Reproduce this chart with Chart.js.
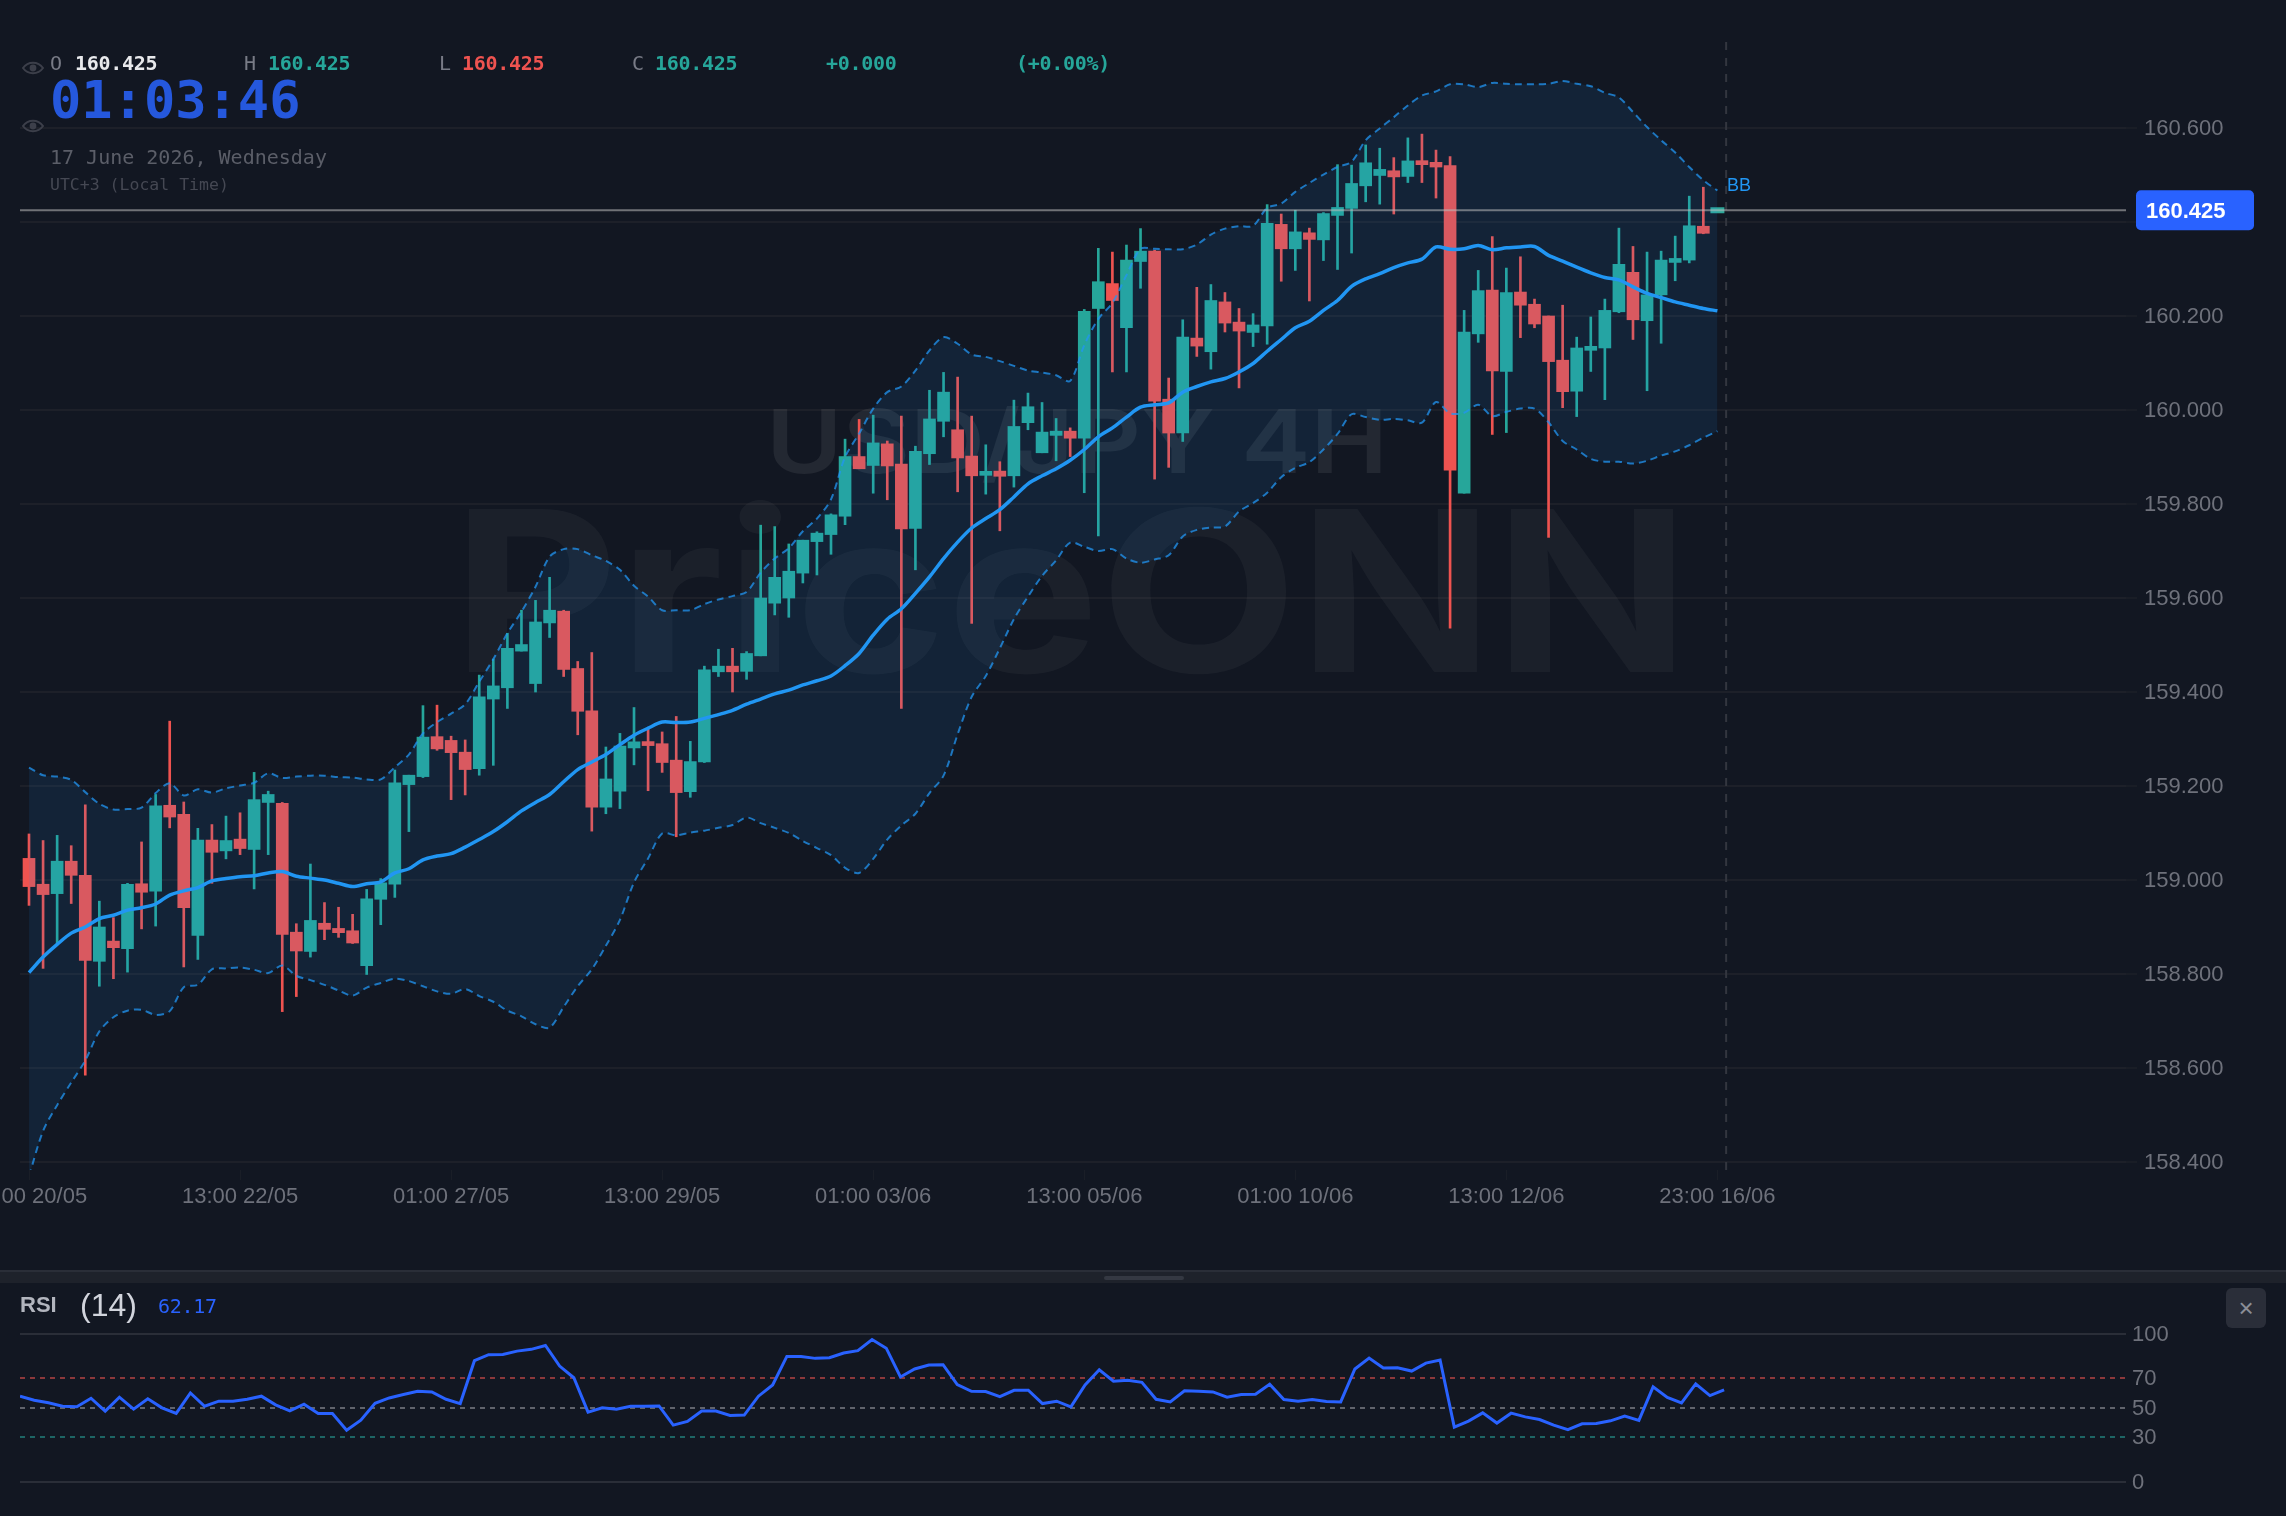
<!DOCTYPE html>
<html>
<head>
<meta charset="utf-8">
<title>USD/JPY 4H</title>
<script src="https://cdn.jsdelivr.net/npm/chart.js@4/dist/chart.umd.js"></script>
<style>
  html, body { margin: 0; padding: 0; background: #121722; overflow: hidden; }
  #stage { position: relative; width: 2286px; height: 1516px; background: #121722; }
  canvas { position: absolute; left: 0; }
  #priceChart { top: 0; }
  #rsiChart { top: 1284px; }
  .abs { position: absolute; white-space: nowrap; line-height: 1; }
  .mono { font-family: "DejaVu Sans Mono", monospace; }
  .sans { font-family: "Liberation Sans", Arial, sans-serif; }
</style>
</head>
<body>
<div id="stage">
  <canvas id="priceChart" width="2286" height="1270"></canvas>
  <canvas id="rsiChart" width="2286" height="232"></canvas>

  <!-- OHLC legend -->
  <span class="abs mono" style="left:50px;top:53px;font-size:20px;color:#787b86">O</span>
  <span class="abs mono" style="left:75px;top:53px;font-size:20px;color:#e8e9ec;letter-spacing:-.3px;font-weight:700">160.425</span>
  <span class="abs mono" style="left:244px;top:53px;font-size:20px;color:#787b86">H</span>
  <span class="abs mono" style="left:268px;top:53px;font-size:20px;color:#26a69a;letter-spacing:-.3px;font-weight:700">160.425</span>
  <span class="abs mono" style="left:439px;top:53px;font-size:20px;color:#787b86">L</span>
  <span class="abs mono" style="left:462px;top:53px;font-size:20px;color:#ef5350;letter-spacing:-.3px;font-weight:700">160.425</span>
  <span class="abs mono" style="left:632px;top:53px;font-size:20px;color:#787b86">C</span>
  <span class="abs mono" style="left:655px;top:53px;font-size:20px;color:#26a69a;letter-spacing:-.3px;font-weight:700">160.425</span>
  <span class="abs mono" style="left:826px;top:53px;font-size:20px;color:#26a69a;letter-spacing:-.3px;font-weight:700">+0.000</span>
  <span class="abs mono" style="left:1016px;top:53px;font-size:20px;color:#26a69a;letter-spacing:-.3px;font-weight:700">(+0.00%)</span>

  <!-- clock block -->
  <span class="abs mono" style="left:50px;top:74px;font-size:52px;font-weight:700;color:#2558dd">01:03:46</span>
  <span class="abs mono" style="left:50px;top:147px;font-size:20px;color:#5b5e68">17 June 2026, Wednesday</span>
  <span class="abs mono" style="left:50px;top:177px;font-size:16.5px;color:#454853">UTC+3 (Local Time)</span>

  <svg class="abs" style="left:22px;top:60px" width="22" height="16" viewBox="0 0 22 16">
    <path d="M1 8 C6 1 16 1 21 8 C16 15 6 15 1 8 Z" fill="none" stroke="#3c3f4a" stroke-width="2"/>
    <circle cx="11" cy="8" r="3.4" fill="#3c3f4a"/>
  </svg>
  <svg class="abs" style="left:22px;top:118px" width="22" height="16" viewBox="0 0 22 16">
    <path d="M1 8 C6 1 16 1 21 8 C16 15 6 15 1 8 Z" fill="none" stroke="#3c3f4a" stroke-width="2"/>
    <circle cx="11" cy="8" r="3.4" fill="#3c3f4a"/>
  </svg>

  <!-- pane divider -->
  <div class="abs" style="left:0;top:1270px;width:2286px;height:2px;background:#2a2e38"></div>
  <div class="abs" style="left:0;top:1272px;width:2286px;height:11px;background:#1e222b"></div>
  <div class="abs" style="left:1104px;top:1276px;width:80px;height:4px;border-radius:2px;background:#343842"></div>

  <!-- RSI legend -->
  <span class="abs sans" style="left:20px;top:1294px;font-size:22px;font-weight:700;color:#b2b5be">RSI</span>
  <span class="abs sans" style="left:80px;top:1289px;font-size:32px;color:#d1d4dc">(14)</span>
  <span class="abs mono" style="left:158px;top:1296px;font-size:20px;color:#2962ff;letter-spacing:-.3px">62.17</span>

  <!-- close button -->
  <div class="abs sans" style="left:2226px;top:1288px;width:40px;height:40px;border-radius:6px;background:#2a2e39;color:#8b8e97;font-size:26px;line-height:40px;text-align:center">×</div>
</div>

<script>
// OHLC candles, 4h bars
const opens = [
  159.046, 158.991, 158.971, 159.040, 159.010, 158.827, 158.870, 158.854, 158.992, 158.976,
  159.159, 159.140, 158.882, 159.085, 159.062, 159.087, 159.065, 159.165, 159.163, 158.889,
  158.848, 158.908, 158.897, 158.892, 158.818, 158.959, 158.991, 159.203, 159.220, 159.305,
  159.297, 159.272, 159.237, 159.385, 159.409, 159.487, 159.418, 159.547, 159.572, 159.450,
  159.360, 159.155, 159.189, 159.281, 159.294, 159.290, 159.255, 159.188, 159.251, 159.443,
  159.455, 159.444, 159.477, 159.589, 159.600, 159.653, 159.720, 159.735, 159.774, 159.901,
  159.882, 159.928, 159.885, 159.748, 159.907, 159.976, 159.958, 159.902, 159.861, 159.870,
  159.860, 159.973, 159.909, 159.946, 159.955, 159.940, 160.216, 160.269, 160.175, 160.316,
  160.338, 160.023, 159.951, 160.153, 160.124, 160.230, 160.187, 160.165, 160.179, 160.395,
  160.343, 160.377, 160.362, 160.414, 160.429, 160.477, 160.499, 160.509, 160.497, 160.530,
  160.527, 160.520, 159.823, 160.162, 160.255, 160.082, 160.251, 160.225, 160.200, 160.106,
  160.040, 160.127, 160.132, 160.209, 160.293, 160.190, 160.245, 160.314, 160.319, 160.391,
  160.425
];
const highs = [
  159.098, 159.084, 159.095, 159.073, 159.160, 158.955, 158.920, 158.993, 159.081, 159.182,
  159.338, 159.166, 159.110, 159.118, 159.136, 159.143, 159.229, 159.189, 159.165, 158.907,
  159.034, 158.952, 158.942, 158.927, 158.980, 159.003, 159.234, 159.223, 159.371, 159.372,
  159.306, 159.298, 159.436, 159.470, 159.525, 159.574, 159.595, 159.644, 159.574, 159.465,
  159.484, 159.283, 159.312, 159.367, 159.321, 159.315, 159.348, 159.295, 159.455, 159.491,
  159.493, 159.486, 159.755, 159.752, 159.715, 159.723, 159.741, 159.779, 159.938, 159.980,
  159.989, 159.934, 159.987, 159.923, 160.042, 160.080, 160.070, 159.987, 159.926, 159.890,
  160.021, 160.036, 160.016, 159.982, 159.962, 160.214, 160.344, 160.336, 160.351, 160.386,
  160.340, 160.068, 160.192, 160.261, 160.267, 160.250, 160.216, 160.205, 160.437, 160.417,
  160.425, 160.387, 160.420, 160.522, 160.521, 160.564, 160.557, 160.537, 160.579, 160.587,
  160.553, 160.539, 160.212, 160.297, 160.369, 160.302, 160.326, 160.236, 160.200, 160.223,
  160.155, 160.198, 160.236, 160.387, 160.348, 160.336, 160.338, 160.370, 160.455, 160.474,
  160.425
];
const lows = [
  158.946, 158.812, 158.865, 158.950, 158.585, 158.774, 158.790, 158.804, 158.896, 158.902,
  159.111, 158.815, 158.831, 158.993, 159.045, 159.054, 158.981, 159.054, 158.720, 158.752,
  158.836, 158.873, 158.878, 158.865, 158.799, 158.905, 158.963, 159.103, 159.218, 159.276,
  159.171, 159.181, 159.223, 159.244, 159.365, 159.487, 159.400, 159.516, 159.433, 159.309,
  159.104, 159.141, 159.152, 159.245, 159.190, 159.229, 159.092, 159.176, 159.250, 159.433,
  159.400, 159.427, 159.477, 159.564, 159.559, 159.632, 159.649, 159.693, 159.756, 159.875,
  159.823, 159.809, 159.365, 159.660, 159.884, 159.943, 159.826, 159.546, 159.821, 159.743,
  159.836, 159.958, 159.909, 159.892, 159.901, 159.824, 159.732, 160.081, 160.081, 160.259,
  159.853, 159.878, 159.933, 160.114, 160.087, 160.166, 160.047, 160.135, 160.140, 160.274,
  160.297, 160.232, 160.318, 160.299, 160.334, 160.443, 160.438, 160.417, 160.484, 160.484,
  160.451, 159.536, 159.823, 160.144, 159.948, 159.952, 160.154, 160.175, 159.729, 160.005,
  159.986, 160.082, 160.022, 160.207, 160.150, 160.041, 160.142, 160.275, 160.313, 160.375,
  160.425
];
const closes = [
  158.986, 158.969, 159.040, 159.010, 158.829, 158.900, 158.856, 158.991, 158.974, 159.158,
  159.134, 158.941, 159.085, 159.059, 159.084, 159.067, 159.171, 159.182, 158.884, 158.849,
  158.914, 158.895, 158.888, 158.866, 158.960, 158.994, 159.207, 159.223, 159.304, 159.279,
  159.271, 159.235, 159.390, 159.413, 159.493, 159.501, 159.549, 159.574, 159.448, 159.359,
  159.155, 159.215, 159.285, 159.294, 159.286, 159.250, 159.186, 159.252, 159.447, 159.455,
  159.443, 159.482, 159.600, 159.644, 159.657, 159.723, 159.738, 159.777, 159.901, 159.875,
  159.930, 159.881, 159.747, 159.912, 159.981, 160.038, 159.898, 159.860, 159.869, 159.859,
  159.965, 160.007, 159.953, 159.955, 159.940, 160.210, 160.273, 160.233, 160.319, 160.338,
  160.019, 159.951, 160.155, 160.136, 160.233, 160.185, 160.168, 160.181, 160.397, 160.343,
  160.379, 160.363, 160.418, 160.431, 160.482, 160.526, 160.512, 160.496, 160.530, 160.522,
  160.517, 159.872, 160.166, 160.254, 160.083, 160.250, 160.223, 160.183, 160.103, 160.039,
  160.132, 160.135, 160.212, 160.310, 160.192, 160.245, 160.319, 160.322, 160.392, 160.376,
  160.425
];

// Bollinger bands
const bbUpper = [
  159.239, 159.223, 159.220, 159.213, 159.187, 159.162, 159.150, 159.151, 159.154, 159.185,
  159.206, 159.180, 159.193, 159.186, 159.195, 159.201, 159.207, 159.227, 159.217, 159.220,
  159.222, 159.222, 159.219, 159.218, 159.214, 159.214, 159.240, 159.267, 159.312, 159.336,
  159.354, 159.374, 159.422, 159.470, 159.525, 159.571, 159.624, 159.688, 159.704, 159.704,
  159.691, 159.679, 159.660, 159.626, 159.603, 159.574, 159.574, 159.574, 159.587, 159.597,
  159.604, 159.613, 159.654, 159.684, 159.706, 159.742, 159.769, 159.810, 159.900, 159.950,
  160.003, 160.038, 160.050, 160.084, 160.127, 160.155, 160.141, 160.118, 160.113, 160.104,
  160.094, 160.084, 160.080, 160.074, 160.062, 160.138, 160.194, 160.228, 160.287, 160.343,
  160.343, 160.342, 160.342, 160.352, 160.373, 160.386, 160.391, 160.392, 160.430, 160.439,
  160.464, 160.483, 160.501, 160.517, 160.528, 160.574, 160.599, 160.623, 160.648, 160.669,
  160.678, 160.693, 160.693, 160.687, 160.696, 160.694, 160.693, 160.693, 160.694, 160.700,
  160.694, 160.689, 160.675, 160.665, 160.634, 160.602, 160.574, 160.548, 160.517, 160.489,
  160.467
];
const bbMiddle = [
  158.803, 158.836, 158.863, 158.887, 158.900, 158.918, 158.925, 158.936, 158.941, 158.949,
  158.968, 158.977, 158.984, 158.998, 159.003, 159.007, 159.009, 159.015, 159.018, 159.008,
  159.004, 159.000, 158.993, 158.986, 158.992, 158.996, 159.015, 159.024, 159.043, 159.051,
  159.056, 159.070, 159.086, 159.103, 159.124, 159.147, 159.165, 159.182, 159.209, 159.235,
  159.251, 159.267, 159.288, 159.308, 159.323, 159.336, 159.335, 159.336, 159.344, 159.352,
  159.361, 159.374, 159.385, 159.396, 159.404, 159.415, 159.424, 159.434, 159.456, 159.482,
  159.521, 159.555, 159.577, 159.610, 159.645, 159.684, 159.719, 159.749, 159.769, 159.788,
  159.815, 159.843, 159.860, 159.875, 159.893, 159.916, 159.943, 159.962, 159.985, 160.006,
  160.011, 160.015, 160.038, 160.050, 160.060, 160.067, 160.081, 160.099, 160.125, 160.150,
  160.175, 160.189, 160.212, 160.233, 160.263, 160.279, 160.290, 160.303, 160.313, 160.321,
  160.347, 160.342, 160.343, 160.350, 160.341, 160.345, 160.347, 160.348, 160.329, 160.317,
  160.304, 160.292, 160.282, 160.277, 160.262, 160.248, 160.239, 160.230, 160.223, 160.216,
  160.211
];
const bbLower = [
  158.370, 158.466, 158.521, 158.569, 158.616, 158.678, 158.708, 158.722, 158.724, 158.713,
  158.721, 158.772, 158.777, 158.810, 158.812, 158.814, 158.809, 158.802, 158.818, 158.796,
  158.787, 158.777, 158.765, 158.754, 158.771, 158.781, 158.790, 158.785, 158.774, 158.763,
  158.758, 158.768, 158.753, 158.741, 158.722, 158.710, 158.693, 158.686, 158.730, 158.774,
  158.810, 158.860, 158.915, 158.995, 159.046, 159.099, 159.095, 159.101, 159.105, 159.111,
  159.117, 159.133, 159.121, 159.111, 159.100, 159.083, 159.068, 159.053, 159.026, 159.015,
  159.045, 159.086, 159.116, 159.141, 159.185, 159.222, 159.310, 159.390, 159.434, 159.493,
  159.555, 159.603, 159.647, 159.680, 159.718, 159.709, 159.700, 159.704, 159.684, 159.675,
  159.682, 159.691, 159.731, 159.745, 159.750, 159.752, 159.784, 159.802, 159.824, 159.857,
  159.877, 159.889, 159.916, 159.949, 159.991, 159.985, 159.979, 159.981, 159.978, 159.973,
  160.017, 159.993, 159.994, 160.011, 159.987, 159.996, 160.003, 160.003, 159.974, 159.934,
  159.916, 159.896, 159.890, 159.890, 159.886, 159.892, 159.903, 159.912, 159.925, 159.941,
  159.955
];

// RSI(14)
const rsiValues = [
  57.9, 55.2, 53.4, 51.1, 50.7, 56.5, 47.8, 57.2, 49.1, 56.1,
  50.0, 46.2, 60.1, 51.1, 54.5, 54.5, 55.8, 57.9, 52.0, 48.0,
  52.5, 46.2, 46.2, 34.9, 41.7, 53.1, 56.7, 59.0, 61.2, 60.8,
  55.8, 52.9, 81.9, 86.0, 86.2, 88.4, 89.6, 92.2, 78.3, 70.4,
  47.1, 50.0, 49.1, 51.1, 51.1, 51.3, 38.3, 40.8, 47.8, 47.8,
  44.8, 45.1, 57.9, 65.5, 84.8, 84.8, 83.5, 83.9, 87.1, 88.7,
  96.3, 90.4, 70.9, 76.3, 79.0, 79.2, 65.7, 61.2, 61.0, 57.6,
  61.9, 61.9, 52.9, 54.5, 50.7, 65.5, 75.8, 68.0, 68.7, 67.3,
  55.8, 54.0, 61.5, 61.2, 60.8, 57.2, 59.0, 59.2, 66.0, 55.6,
  54.5, 55.6, 54.3, 54.0, 76.3, 83.7, 77.0, 77.2, 74.9, 80.3,
  82.4, 37.0, 41.0, 46.6, 39.7, 46.4, 43.9, 42.1, 38.3, 35.2,
  39.2, 39.4, 41.2, 44.4, 41.5, 64.2, 57.0, 53.4, 66.2, 58.3,
  62.17
];

const priceTicks = [158.4, 158.6, 158.8, 159.0, 159.2, 159.4, 159.6, 159.8, 160.0, 160.2, 160.4, 160.6];
const timeTickIndices = [0, 15, 30, 45, 60, 75, 90, 105, 120];
const timeTickLabels = ['01:00 20/05', '13:00 22/05', '01:00 27/05', '13:00 29/05', '01:00 03/06', '13:00 05/06', '01:00 10/06', '13:00 12/06', '23:00 16/06'];
const rsiTicks = [0, 30, 50, 70, 100];
const lastPrice = 160.425;
const cursorIndex = 120.62;

const UP = '#26a69a';
const DOWN = '#ef5350';
const GRID = '#1d2029';
const LABEL = '#6e717b';
const SANS = '"Liberation Sans", Arial, sans-serif';

const lastBar = closes.length - 1;
const candleColors = opens.map((o, i) => (closes[i] >= o ? UP : DOWN));

// bar datasets take {x, y: [from, to]} for floating bars
const wickData = highs.slice(0, lastBar).map((h, i) => ({ x: i, y: [lows[i], h] }));
const bodyData = opens.slice(0, lastBar).map((o, i) => ({ x: i, y: [o, closes[i]] }));
const lastBody = [{ x: lastBar, y: [opens[lastBar], closes[lastBar]] }];
const lineData = (arr) => arr.map((v, i) => ({ x: i, y: v }));

// draws text stretched sideways to a target width
function fitText(c, text, x, y, width) {
  const sx = width / c.measureText(text).width;
  c.save();
  c.translate(x, y);
  c.scale(sx, 1);
  c.fillText(text, 0, 0);
  c.restore();
}

// Big watermark under the candles
const watermark = {
  id: 'watermark',
  beforeDatasetsDraw(chart) {
    const c = chart.ctx;
    c.save();
    c.textBaseline = 'alphabetic';
    c.textAlign = 'left';
    c.fillStyle = 'rgba(255,255,255,0.04)';
    c.font = '700 224px Inter';
    fitText(c, 'PriceONN', 452, 672, 1238);
    c.fillStyle = 'rgba(255,255,255,0.075)';
    c.font = '600 88px Inter';
    fitText(c, 'USD/JPY 4H', 766, 473, 622);
    c.restore();
  }
};

// Last price line with its badge, the cursor line and the BB tag
const priceOverlay = {
  id: 'priceOverlay',
  afterDatasetsDraw(chart) {
    const c = chart.ctx;
    const y = chart.scales.y.getPixelForValue(lastPrice);
    const x = chart.scales.x.getPixelForValue(cursorIndex);
    const area = chart.chartArea;
    c.save();
    c.strokeStyle = '#33363f';
    c.lineWidth = 2;
    c.setLineDash([8, 8]);
    c.beginPath();
    c.moveTo(x, area.top);
    c.lineTo(x, area.bottom);
    c.stroke();

    c.setLineDash([]);
    c.strokeStyle = 'rgba(190,190,190,0.55)';
    c.beginPath();
    c.moveTo(area.left, y);
    c.lineTo(area.right, y);
    c.stroke();

    c.fillStyle = '#2962ff';
    c.beginPath();
    c.roundRect(2136, y - 20, 118, 40, 5);
    c.fill();
    c.fillStyle = '#ffffff';
    c.font = 'bold 22px ' + SANS;
    c.textBaseline = 'middle';
    c.textAlign = 'left';
    c.fillText(lastPrice.toFixed(3), 2146, y + 2);

    c.fillStyle = '#2196f3';
    c.font = '18px ' + SANS;
    c.fillText('BB', 1727, chart.scales.y.getPixelForValue(bbUpper[lastBar]) - 4);
    c.restore();
  }
};

new Chart(document.getElementById('priceChart'), {
  type: 'bar',
  data: {
    datasets: [
      { label: 'Wick', data: wickData, backgroundColor: candleColors, barThickness: 2, grouped: false, order: 6 },
      { label: 'Body', data: bodyData, backgroundColor: candleColors, barThickness: 12, grouped: false, minBarLength: 4, order: 5 },
      // open equals close on the forming bar, inflate keeps it visible around the price
      { label: 'Last', data: lastBody, backgroundColor: '#2fa79a', barThickness: 8, grouped: false, inflateAmount: 3, order: 4 },
      {
        type: 'line', label: 'BB upper', data: lineData(bbUpper), order: 3,
        borderColor: 'rgba(33,150,243,0.75)', borderWidth: 2, borderDash: [7, 5],
        pointRadius: 0, tension: 0.3,
        fill: { target: 4 }, backgroundColor: 'rgba(33,150,243,0.1)'
      },
      {
        type: 'line', label: 'BB lower', data: lineData(bbLower), order: 2,
        borderColor: 'rgba(33,150,243,0.75)', borderWidth: 2, borderDash: [7, 5],
        pointRadius: 0, tension: 0.3, fill: false
      },
      {
        type: 'line', label: 'BB basis', data: lineData(bbMiddle), order: 1,
        borderColor: '#2196f3', borderWidth: 3.5, pointRadius: 0, tension: 0.3, fill: false
      }
    ]
  },
  options: {
    responsive: false,
    animation: false,
    events: [],
    layout: { padding: { top: 42, left: 20, right: 0, bottom: 0 } },
    plugins: { legend: { display: false }, tooltip: { enabled: false } },
    scales: {
      x: {
        type: 'linear',
        offset: false,
        min: -0.64,
        max: 149.04,
        afterBuildTicks(axis) { axis.ticks = timeTickIndices.map((v) => ({ value: v })); },
        afterFit(axis) { axis.height = 100; axis.paddingLeft = 0; axis.paddingRight = 0; },
        grid: { offset: false, drawOnChartArea: false, tickLength: 10, tickColor: '#1a1e27' },
        border: { display: false },
        ticks: {
          autoSkip: false,
          maxRotation: 0,
          padding: 4,
          color: LABEL,
          font: { family: SANS, size: 22 },
          callback: (v) => timeTickLabels[timeTickIndices.indexOf(v)]
        }
      },
      y: {
        position: 'right',
        min: 158.383,
        max: 160.783,
        afterBuildTicks(axis) { axis.ticks = priceTicks.map((v) => ({ value: v })); },
        afterFit(axis) { axis.width = 160; axis.paddingTop = 0; axis.paddingBottom = 0; },
        grid: { color: GRID, lineWidth: 2, tickLength: 11, tickColor: '#191d26' },
        border: { display: false },
        ticks: {
          padding: 7,
          labelOffset: 1,
          color: LABEL,
          font: { family: SANS, size: 22 },
          callback: (v) => v.toFixed(3)
        }
      }
    }
  },
  plugins: [watermark, priceOverlay]
});

const rsiLevelColor = (v) => {
  if (v === 70) return 'rgba(239,83,80,0.55)';
  if (v === 50) return 'rgba(160,163,170,0.55)';
  if (v === 30) return 'rgba(38,166,154,0.55)';
  return '#2a2e38';
};

new Chart(document.getElementById('rsiChart'), {
  type: 'line',
  data: {
    datasets: [{
      label: 'RSI', data: lineData(rsiValues),
      borderColor: '#2962ff', borderWidth: 3, pointRadius: 0, tension: 0, fill: false
    }]
  },
  options: {
    responsive: false,
    animation: false,
    events: [],
    layout: { padding: { top: 50, left: 20, right: 0, bottom: 34.3 } },
    plugins: { legend: { display: false }, tooltip: { enabled: false } },
    scales: {
      x: { type: 'linear', display: false, min: 0, max: 148.3 },
      y: {
        position: 'right',
        min: 0,
        max: 100,
        afterBuildTicks(axis) { axis.ticks = rsiTicks.map((v) => ({ value: v })); },
        afterFit(axis) { axis.width = 160; axis.paddingTop = 0; axis.paddingBottom = 0; },
        grid: {
          color: (ctx) => rsiLevelColor(ctx.tick.value),
          lineWidth: 2,
          drawTicks: false
        },
        border: {
          display: false,
          dash: (ctx) => (ctx.tick && ctx.tick.value > 0 && ctx.tick.value < 100 ? [5, 5] : [])
        },
        ticks: {
          padding: 6,
          labelOffset: 1,
          color: LABEL,
          font: { family: SANS, size: 22 },
          callback: (v) => String(v)
        }
      }
    }
  }
});
</script>
</body>
</html>
